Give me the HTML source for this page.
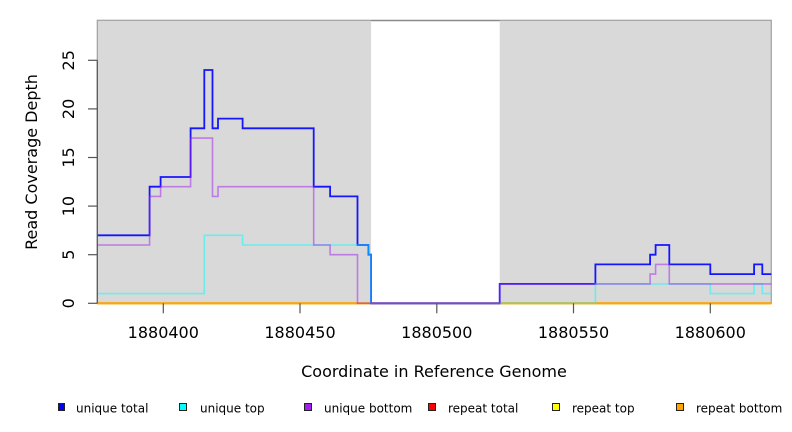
<!DOCTYPE html>
<html>
<head>
<meta charset="utf-8">
<style>
  html, body { margin:0; padding:0; background:#ffffff; }
  svg { display:block; }
  text { font-family: "DejaVu Sans", "Liberation Sans", sans-serif; fill:#000; }
</style>
</head>
<body>
<svg width="792" height="432" viewBox="0 0 792 432" xmlns="http://www.w3.org/2000/svg">
  <rect x="0" y="0" width="792" height="432" fill="#ffffff"/>

  <!-- gray background regions -->
  <rect x="97.3" y="20.3" width="273.8" height="283" fill="#d9d9d9"/>
  <rect x="499.7" y="20.3" width="271.6" height="283" fill="#d9d9d9"/>

  <!-- plot box -->
  <rect x="97.3" y="20.3" width="674" height="283" fill="none" stroke="#a0a0a0" stroke-width="1.2"/>
  <line x1="371.1" y1="20.6" x2="499.7" y2="20.6" stroke="#8a8a8a" stroke-width="1.2"/>

  <!-- repeat series (all zero) -->
  <path d="M97.3,303.3 H771.3" fill="none" stroke="#ff0000" stroke-width="1.8"/>
  <path d="M97.3,303.3 H771.3" fill="none" stroke="#ffff00" stroke-width="1.8"/>
  <path d="M97.3,303.3 H771.3" fill="none" stroke="#ffa500" stroke-width="1.8"/>

  <!-- unique total -->
  <path d="M97.3,235.3 H149.6 V186.7 H160.6 V177.0 H190.6 V128.3 H204.3 V70.0 H212.5 V128.3 H218.0 V118.6 H242.6 V128.3 H313.7 V186.7 H330.1 V196.4 H357.5 V245.0 H368.4 V254.7 H371.1 V303.3 H499.7 V283.9 H595.4 V264.4 H650.1 V254.7 H655.6 V245.0 H669.3 V264.4 H710.3 V274.1 H754.1 V264.4 H762.3 V274.1 H771.3"
        fill="none" stroke="#0000ff" stroke-width="1.8" stroke-opacity="0.9"/>

  <!-- unique top -->
  <path d="M97.3,293.6 H204.3 V235.3 H242.6 V245.0 H368.4 V254.7 H371.1 V303.3 H595.4 V283.9 H710.3 V293.6 H754.1 V283.9 H762.3 V293.6 H771.3"
        fill="none" stroke="#00ffff" stroke-width="1.6" stroke-opacity="0.5"/>

  <!-- unique bottom -->
  <path d="M97.3,245.0 H149.6 V196.4 H160.6 V186.7 H190.6 V138.1 H212.5 V196.4 H218.0 V186.7 H313.7 V245.0 H330.1 V254.7 H357.5 V303.3 H499.7 V283.9 H650.1 V274.1 H655.6 V264.4 H669.3 V283.9 H771.3"
        fill="none" stroke="#a020f0" stroke-width="1.6" stroke-opacity="0.5"/>

  <!-- zero line in blank region tint -->
  <path d="M371.1,303.3 H499.7" fill="none" stroke="#6a4cf0" stroke-width="1.8" stroke-opacity="0.8"/>

  <!-- y axis -->
  <g stroke="#555555" stroke-width="1.2">
    <line x1="97.3" y1="60.3" x2="97.3" y2="303.3"/>
    <line x1="88" y1="303.3" x2="97.3" y2="303.3"/>
    <line x1="88" y1="254.7" x2="97.3" y2="254.7"/>
    <line x1="88" y1="206.1" x2="97.3" y2="206.1"/>
    <line x1="88" y1="157.5" x2="97.3" y2="157.5"/>
    <line x1="88" y1="108.9" x2="97.3" y2="108.9"/>
    <line x1="88" y1="60.3" x2="97.3" y2="60.3"/>
  </g>
  <g font-size="16" text-anchor="middle">
    <text transform="translate(74,303.3) rotate(-90)">0</text>
    <text transform="translate(74,254.7) rotate(-90)">5</text>
    <text transform="translate(74,206.1) rotate(-90)">10</text>
    <text transform="translate(74,157.5) rotate(-90)">15</text>
    <text transform="translate(74,108.9) rotate(-90)">20</text>
    <text transform="translate(74,60.3) rotate(-90)">25</text>
  </g>
  <text font-size="16" text-anchor="middle" transform="translate(37,162) rotate(-90)">Read Coverage Depth</text>

  <!-- x axis ticks -->
  <g stroke="#555555" stroke-width="1.2">
    <line x1="163.3" y1="303.3" x2="163.3" y2="313.3"/>
    <line x1="300.0" y1="303.3" x2="300.0" y2="313.3"/>
    <line x1="436.8" y1="303.3" x2="436.8" y2="313.3"/>
    <line x1="573.5" y1="303.3" x2="573.5" y2="313.3"/>
    <line x1="710.3" y1="303.3" x2="710.3" y2="313.3"/>
  </g>
  <g font-size="16" text-anchor="middle">
    <text x="163.3" y="338">1880400</text>
    <text x="300.0" y="338">1880450</text>
    <text x="436.8" y="338">1880500</text>
    <text x="573.5" y="338">1880550</text>
    <text x="710.3" y="338">1880600</text>
  </g>
  <text x="434" y="377" font-size="16" text-anchor="middle">Coordinate in Reference Genome</text>

  <!-- legend -->
  <g stroke="#222222" stroke-width="1">
    <rect x="58.5" y="403.5" width="6" height="7" fill="#0000ff"/>
    <rect x="179.5" y="403.5" width="7" height="7" fill="#00ffff"/>
    <rect x="304.5" y="403.5" width="7" height="7" fill="#a020f0"/>
    <rect x="428.5" y="403.5" width="7" height="7" fill="#ff0000"/>
    <rect x="552.5" y="403.5" width="7" height="7" fill="#ffff00"/>
    <rect x="676.5" y="403.5" width="7" height="7" fill="#ffa500"/>
  </g>
  <g font-size="12">
    <text x="76" y="412.5">unique total</text>
    <text x="200" y="412.5">unique top</text>
    <text x="324" y="412.5">unique bottom</text>
    <text x="448" y="412.5">repeat total</text>
    <text x="572" y="412.5">repeat top</text>
    <text x="696" y="412.5">repeat bottom</text>
  </g>
</svg>
</body>
</html>
